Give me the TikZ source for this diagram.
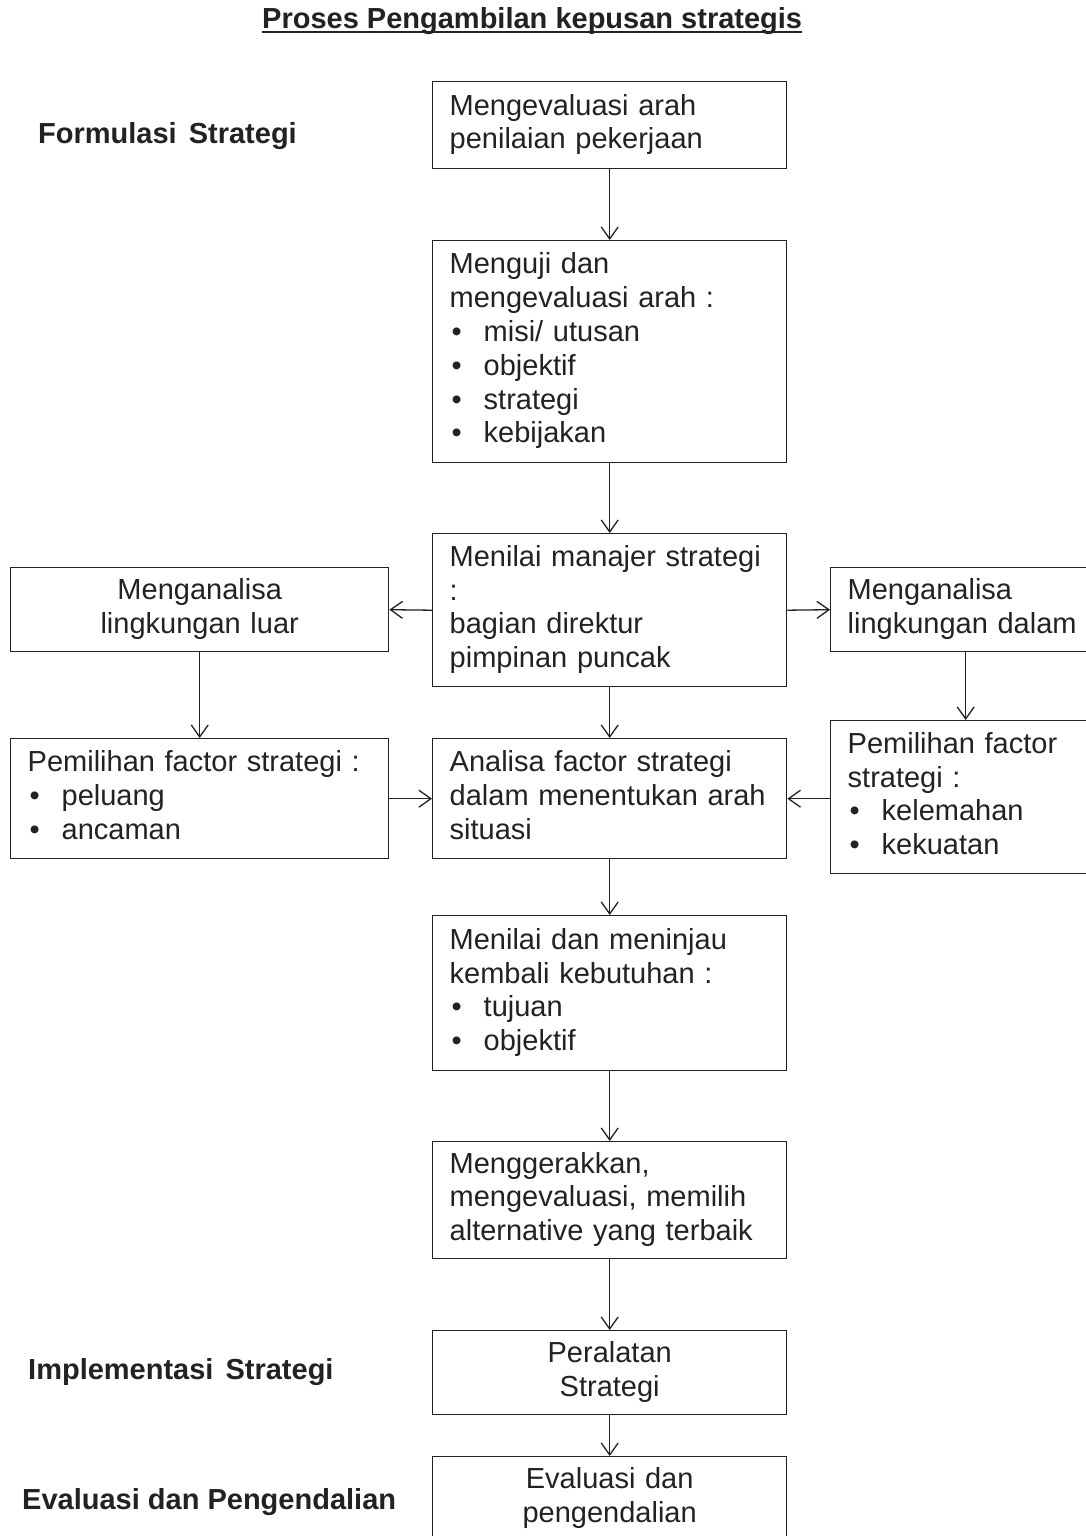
\documentclass[tikz,border=0pt]{standalone}
\usepackage{fontspec}
\setmainfont{Liberation Sans}
\usetikzlibrary{arrows.meta}
\definecolor{ink}{HTML}{222222}
\newcommand\bul[1]{\makebox[34pt][l]{\hspace{2pt}•}#1}
\begin{document}
\begin{tikzpicture}[x=1pt,y=-1pt,
  every node/.style={text=ink, font=\fontsize{29}{33.8}\selectfont},
  box/.style={draw=ink, line width=1.4pt, inner ysep=0pt, inner xsep=17pt,
    anchor=north west, align=left,
    execute at begin node={\strut}, execute at end node={\strut}},
  midbox/.style={box, text width=320pt, minimum width=354pt},
  sidebox/.style={box, text width=344pt, minimum width=378pt},
  rightbox/.style={box, text width=236pt, minimum width=270pt},
  heading/.style={anchor=base west, inner sep=0pt, font=\fontsize{29}{33.8}\selectfont\bfseries},
  conn/.style={draw=ink, line width=1.3pt,
    -{Straight Barb[length=12pt,width=17pt,line width=1.3pt]}}
]
\useasboundingbox (0,0) rectangle (1086,1536);
\clip (0,0) rectangle (1086,1536);
\fill[white] (0,0) rectangle (1086,1536);

% title and stage headings
\node[heading] (title) at (262,29) {Proses Pengambilan kepusan strategis};
\draw[ink, line width=2.6pt] ([yshift=-3pt]title.base west) -- ([yshift=-3pt]title.base east);
\node[heading] (hform) at (38,143) {Formulasi\hspace{4pt} Strategi};
\node[heading] (himpl) at (28,1379) {Implementasi\hspace{4pt} Strategi};
\node[heading] (heval) at (22,1509) {Evaluasi dan Pengendalian};

% central chain
\node[midbox, minimum height=87pt] (A) at (432,81) {Mengevaluasi arah\\penilaian pekerjaan};
\node[midbox, minimum height=222pt] (B) at (432,240) {Menguji dan\\mengevaluasi arah :\\\bul{misi/ utusan}\\\bul{objektif}\\\bul{strategi}\\\bul{kebijakan}};
\node[midbox, minimum height=153pt] (C) at (432,533) {Menilai manajer strategi\\:\\bagian direktur\\pimpinan puncak};
\node[midbox, minimum height=120pt] (D) at (432,738) {Analisa factor strategi\\dalam menentukan arah\\situasi};
\node[midbox, minimum height=155pt] (E) at (432,915) {Menilai dan meninjau\\kembali kebutuhan :\\\bul{tujuan}\\\bul{objektif}};
\node[midbox, minimum height=117pt] (F) at (432,1141) {Menggerakkan,\\mengevaluasi, memilih\\alternative yang terbaik};
\node[midbox, minimum height=84pt, align=center] (G) at (432,1330) {Peralatan\\Strategi};
\node[midbox, minimum height=84pt, align=center] (H) at (432,1456) {Evaluasi dan\\pengendalian};

% left branch
\node[sidebox, minimum height=84pt, align=center] (L1) at (10,567) {Menganalisa\\lingkungan luar};
\node[sidebox, minimum height=120pt] (L2) at (10,738) {Pemilihan factor strategi :\\\bul{peluang}\\\bul{ancaman}};

% right branch
\node[rightbox, minimum height=84pt] (R1) at (830,567) {Menganalisa\\lingkungan dalam};
\node[rightbox, minimum height=153pt] (R2) at (830,720) {Pemilihan factor\\strategi :\\\bul{kelemahan}\\\bul{kekuatan}};

% connectors
\draw[conn] (A.south) -- (B.north);
\draw[conn] (B.south) -- (C.north);
\draw[conn] (C.west) -- (L1.east);
\draw[conn] (C.east) -- (R1.west);
\draw[conn] (L1.south) -- (L2.north);
\draw[conn] (R1.south) -- (R2.north);
\draw[conn] (C.south) -- (D.north);
\draw[conn] (L2.east) -- (D.west);
\draw[conn] (R2.west |- D.east) -- (D.east);
\draw[conn] (D.south) -- (E.north);
\draw[conn] (E.south) -- (F.north);
\draw[conn] (F.south) -- (G.north);
\draw[conn] (G.south) -- (H.north);
\end{tikzpicture}
\end{document}
